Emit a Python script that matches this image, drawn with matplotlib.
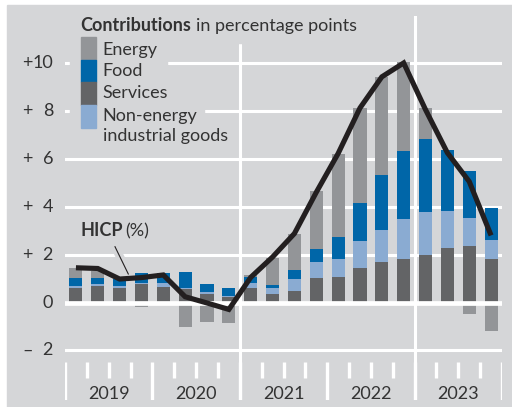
import matplotlib
matplotlib.use("Agg")
import matplotlib.pyplot as plt
from matplotlib.patches import Rectangle
from matplotlib.lines import Line2D
from matplotlib.transforms import blended_transform_factory
import numpy as np

# ---- data ----
years = ["2019", "2020", "2021", "2022", "2023"]
services = [0.62, 0.70, 0.60, 0.79, 0.66, 0.57, 0.34, 0.24,
            0.59, 0.36, 0.50, 1.03, 1.07, 1.43, 1.69, 1.82,
            1.99, 2.26, 2.34, 1.82]
neig = [0.07, 0.09, 0.09, 0.04, 0.14, 0.05, 0.09, 0.05,
        0.24, 0.24, 0.47, 0.67, 0.75, 1.12, 1.35, 1.68,
        1.78, 1.55, 1.19, 0.80]
food = [0.35, 0.25, 0.28, 0.39, 0.42, 0.65, 0.36, 0.31,
        0.25, 0.13, 0.39, 0.54, 0.93, 1.62, 2.28, 2.82,
        3.07, 2.54, 1.98, 1.34]
energy = [0.39, 0.27, 0.0, -0.20, 0.0, -1.04, -0.80, -0.85,
          0.05, 1.12, 1.50, 2.43, 3.43, 3.97, 4.08, 3.73,
          1.26, 0.0, -0.50, -1.19]
hicp = [1.45, 1.42, 0.98, 1.04, 1.15, 0.24, -0.02, -0.29,
        1.05, 1.90, 2.88, 4.60, 6.22, 8.12, 9.42, 10.0,
        8.05, 6.25, 5.05, 2.80]
ytick_vals = [10, 8, 6, 4, 2, 0, -2]
ytick_signs = ["+", "+", "+", "+", "+", "", "\u2013"]
ytick_nums = ["10", "8", "6", "4", "2", "0", "2"]

# ---- style ----
BG = "#d5d6d8"
C_EN = "#939598"
C_FOOD = "#0066a8"
C_SERV = "#636466"
C_NEIG = "#8aabd2"
C_LINE = "#231f20"
TXT = "#333333"
FONT = "Lato"
FS = 13
plt.rcParams["font.family"] = [FONT, "DejaVu Sans"]

W, H = 512, 407
fig = plt.figure(figsize=(W / 100, H / 100), dpi=100)
fig.patch.set_facecolor("white")
fig.add_artist(Rectangle((7 / W, 0), 1 - 7 / W, 1 - 5 / H,
                         transform=fig.transFigure, color=BG, zorder=-10))


def fx(px):
    return px / W


def fy(py):
    return 1 - py / H


ax = fig.add_axes([fx(65), fy(400), (502 - 65) / W, (400 - 16) / H])
ax.set_facecolor("none")
ax.set_axis_off()
ax.set_xlim(-0.5, 19.5)
ax.set_ylim(-4.07, 11.96)

n = len(services)
x = np.arange(n)
s = np.array(services)
nn = np.array(neig)
f = np.array(food)
e = np.array(energy)

# grid
for v in ytick_vals:
    if v == 0:
        continue
    ax.axhline(v, color="white", lw=2.2, zorder=1)
for xv in [7.5, 15.5]:
    ax.axvline(xv, color="white", lw=2.2, zorder=1)

# bars
bw = 0.6
ax.bar(x, s, bw, color=C_SERV, zorder=2, linewidth=0)
ax.bar(x, nn, bw, bottom=s, color=C_NEIG, zorder=2, linewidth=0)
ax.bar(x, f, bw, bottom=s + nn, color=C_FOOD, zorder=2, linewidth=0)
e_bottom = np.where(e >= 0, s + nn + f, 0)
ax.bar(x, e, bw, bottom=e_bottom, color=C_EN, zorder=2, linewidth=0)

ax.axhline(0, color="white", lw=3.4, zorder=3)

# HICP line
ax.plot(x, hicp, color=C_LINE, lw=3.7, zorder=6,
        solid_joinstyle="miter", solid_capstyle="butt")

# bottom ticks
for k in range(n + 1):
    xb = k - 0.5
    if k % 4 == 0:
        ax.vlines(xb, -4.07, -2.48, color="white", lw=2.4, zorder=1)
    else:
        ax.vlines(xb, -3.15, -2.48, color="white", lw=2.4, zorder=1)
for i, yr in enumerate(years):
    ax.text(4 * i + 1.5, -3.80, yr, ha="center", va="center",
            fontsize=FS, color=TXT)

# y tick labels
tr = blended_transform_factory(fig.transFigure, ax.transData)
for v, sg, nm in zip(ytick_vals, ytick_signs, ytick_nums):
    if sg:
        ax.text(fx(22), v, sg, transform=tr, ha="left", va="center",
                fontsize=FS, color=TXT)
    ax.text(fx(53), v, nm, transform=tr, ha="right", va="center",
            fontsize=FS, color=TXT)

# legend background (hides grid behind the legend)
for (x0, x1, y0, y1) in [(70, 358, 13, 43), (70, 167, 43, 82),
                         (70, 175, 82, 105), (70, 204, 105, 125),
                         (70, 236, 125, 146)]:
    fig.add_artist(Rectangle((fx(x0), fy(y1)), (x1 - x0) / W, (y1 - y0) / H,
                             transform=fig.transFigure, color=BG, zorder=2.5))

fig.text(fx(80.7), fy(25.5), "Contributions", fontsize=FS, color=TXT,
         fontweight="bold", ha="left", va="center", zorder=3)
fig.text(fx(196), fy(25.5), "in percentage points", fontsize=FS, color=TXT,
         ha="left", va="center", zorder=3)
patch_cols = [C_EN, C_FOOD, C_SERV, C_NEIG]
patch_tops = [36.7, 60.0, 81.7, 105.0]
patch_bots = [60.0, 81.7, 105.0, 127.7]
for c, t, b in zip(patch_cols, patch_tops, patch_bots):
    fig.add_artist(Rectangle((fx(80.7), fy(b)), (96 - 80.7) / W, (b - t) / H,
                             transform=fig.transFigure, color=c, zorder=4))
leg_labels = ["Energy", "Food", "Services", "Non-energy", "industrial goods"]
leg_y = [49.5, 71.0, 93.5, 115.5, 135.5]
for lab, yy in zip(leg_labels, leg_y):
    fig.text(fx(102.7), fy(yy), lab, fontsize=FS, color=TXT,
             ha="left", va="center", zorder=3)

# HICP label
fig.text(fx(80.7), fy(231), "HICP", fontsize=FS, color=TXT, fontweight="bold",
         ha="left", va="center", zorder=3)
fig.text(fx(125.5), fy(231), "(%)", fontsize=FS, color=TXT,
         ha="left", va="center", zorder=3)
fig.add_artist(Line2D([fx(115), fx(127)], [fy(246.7), fy(271)],
                      transform=fig.transFigure, color=BG, lw=6,
                      solid_capstyle="butt", zorder=0.5))
fig.add_artist(Line2D([fx(115), fx(128.3)], [fy(246.7), fy(274)],
                      transform=fig.transFigure, color=C_LINE, lw=0.8,
                      zorder=0.6))

fig.savefig("out.png", dpi=100, facecolor="white")
